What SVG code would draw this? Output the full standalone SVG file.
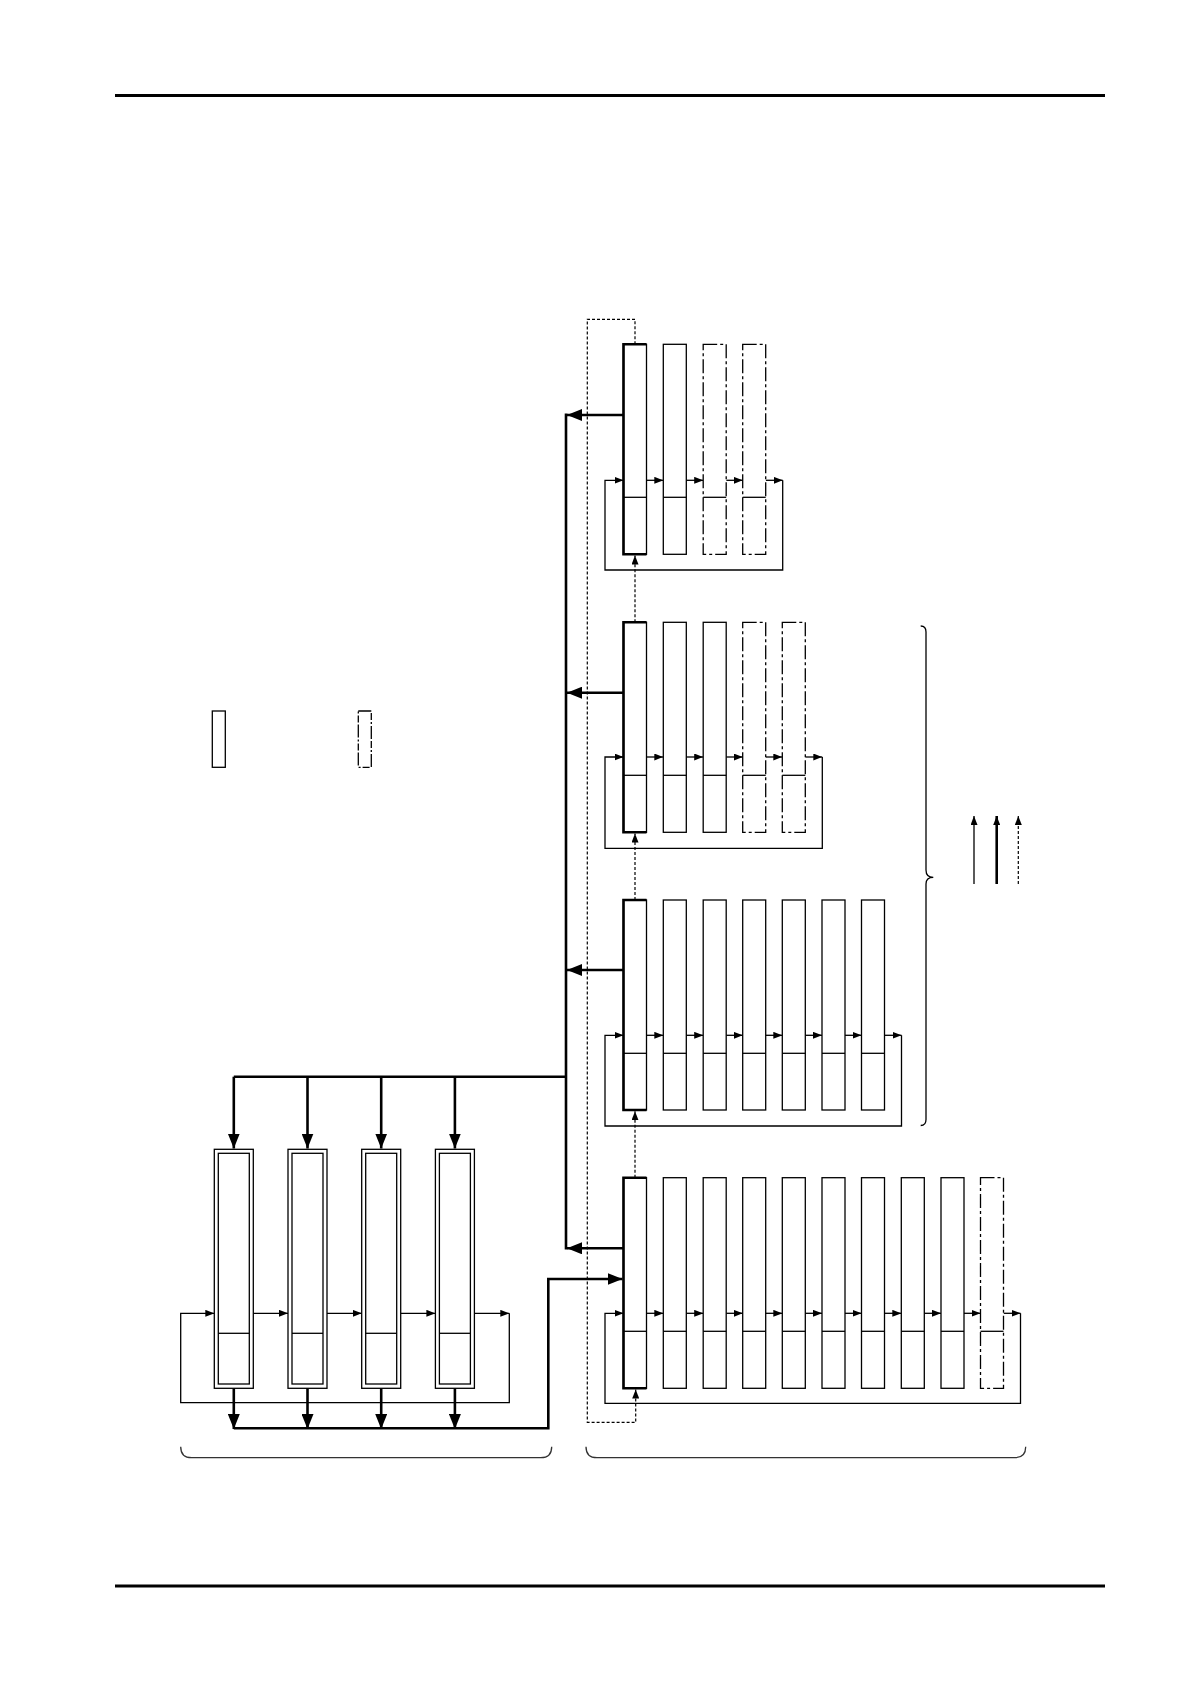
<svg xmlns="http://www.w3.org/2000/svg" width="1191" height="1684" viewBox="0 0 1191 1684">
<defs>
<style>
.thin{fill:none;stroke:#000;stroke-width:1.3}
.thick{fill:none;stroke:#000;stroke-width:2.6}
.col{fill:#fff;stroke:#000;stroke-width:1.3}
.edge{fill:none;stroke:#000;stroke-width:2.6}
.dash{fill:#fff;stroke:#000;stroke-width:1.3;stroke-dasharray:14 3 3 3}
.dot{fill:none;stroke:#000;stroke-width:1.2;stroke-dasharray:3 2}
.brace{fill:none;stroke:#333;stroke-width:1.3}
.div{stroke:#000;stroke-width:1.3}
</style>
<marker id="sa" markerUnits="userSpaceOnUse" markerWidth="9" markerHeight="7" refX="9" refY="3.5" orient="auto"><path d="M0,0 L9,3.5 L0,7 z" fill="#000"/></marker>
<marker id="la" markerUnits="userSpaceOnUse" markerWidth="15" markerHeight="12" refX="15" refY="6" orient="auto"><path d="M0,0 L15,6 L0,12 z" fill="#000"/></marker>
</defs>

<g id="rules">
<line x1="115" y1="95.6" x2="1105" y2="95.6" stroke="#000" stroke-width="3"/>
<line x1="115" y1="1586" x2="1105" y2="1586" stroke="#000" stroke-width="3"/>
</g>

<g id="legend">
<rect x="212.3" y="711" width="13" height="56.3" class="col"/>
<rect x="358.3" y="711" width="13" height="56.3" class="dash" style="stroke-dasharray:13 2 7 2 2 2"/>
<line x1="974" y1="884" x2="974" y2="816" class="thin" marker-end="url(#sa)"/>
<line x1="996.7" y1="884" x2="996.7" y2="816" class="thick" marker-end="url(#sa)"/>
<line x1="1018.3" y1="884" x2="1018.3" y2="816" class="dot" marker-end="url(#sa)"/>
</g>

<g id="braces">
<path class="brace" style="stroke:#000" d="M920.7,626 Q926,626 926,632 V870 Q926,877.4 933.3,877.4 Q926,877.4 926,884 V1119.5 Q926,1125.5 920.7,1125.5"/>
<path class="brace" d="M180.7,1446.7 Q180.7,1457.7 191.7,1457.7 H540.7 Q551.7,1457.7 551.7,1446.7"/>
<path class="brace" d="M586,1446.7 Q586,1457.7 597,1457.7 H1014.7 Q1025.7,1457.7 1025.7,1446.7"/>
</g>

<g id="connectors">
<path class="dot" d="M635,344.3 V319.3 H587.3 V1422.3 H635.7 V1389.5" marker-end="url(#sa)"/>
<path class="dot" d="M635,622.3 V555.5" marker-end="url(#sa)"/>
<path class="dot" d="M635,900 V833.5" marker-end="url(#sa)"/>
<path class="dot" d="M635,1177.7 V1111.2" marker-end="url(#sa)"/>
<path class="thick" d="M566,413.5 V1249.5"/>
<path class="thick" d="M623.5,415 H567" marker-end="url(#la)"/>
<path class="thick" d="M623.5,692.7 H567" marker-end="url(#la)"/>
<path class="thick" d="M623.5,970 H567" marker-end="url(#la)"/>
<path class="thick" d="M623.5,1248.3 H567" marker-end="url(#la)"/>
<path class="thick" d="M566,1076.7 H233.8"/>
<path class="thick" d="M233.8,1076.7 V1148.5" marker-end="url(#la)"/>
<path class="thick" d="M307.5,1076.7 V1148.5" marker-end="url(#la)"/>
<path class="thick" d="M381.2,1076.7 V1148.5" marker-end="url(#la)"/>
<path class="thick" d="M454.9,1076.7 V1148.5" marker-end="url(#la)"/>
<path class="thick" d="M233.8,1388.3 V1429" marker-end="url(#la)"/>
<path class="thick" d="M307.5,1388.3 V1429" marker-end="url(#la)"/>
<path class="thick" d="M381.2,1388.3 V1429" marker-end="url(#la)"/>
<path class="thick" d="M454.9,1388.3 V1429" marker-end="url(#la)"/>
<path class="thick" d="M233.8,1428.3 H548.3 V1279 H622.5" marker-end="url(#la)"/>
<path class="thin" d="M509.3,1313.3 V1402.7 H180.7 V1313.3 H214.3" marker-end="url(#sa)"/>
<path class="thin" d="M253.3,1313.3 H288" marker-end="url(#sa)"/>
<path class="thin" d="M327,1313.3 H361.7" marker-end="url(#sa)"/>
<path class="thin" d="M400.7,1313.3 H435.4" marker-end="url(#sa)"/>
<path class="thin" d="M474.4,1313.3 H509.3" marker-end="url(#sa)"/>
<path class="thin" d="M782.7,480.3 V570 H605 V480.3 H623.5" marker-end="url(#sa)"/>
<path class="thin" d="M646.5,480.3 H663.3" marker-end="url(#sa)"/>
<path class="thin" d="M686.3,480.3 H703.2" marker-end="url(#sa)"/>
<path class="thin" d="M726.2,480.3 H742.7" marker-end="url(#sa)"/>
<path class="thin" d="M765.7,480.3 H782.7" marker-end="url(#sa)"/>
<path class="thin" d="M822.3,757 V848.3 H605 V757 H623.5" marker-end="url(#sa)"/>
<path class="thin" d="M646.5,757 H663.3" marker-end="url(#sa)"/>
<path class="thin" d="M686.3,757 H703.2" marker-end="url(#sa)"/>
<path class="thin" d="M726.2,757 H742.7" marker-end="url(#sa)"/>
<path class="thin" d="M765.7,757 H782.3" marker-end="url(#sa)"/>
<path class="thin" d="M805.3,757 H822.3" marker-end="url(#sa)"/>
<path class="thin" d="M901.5,1035.3 V1126 H605 V1035.3 H623.5" marker-end="url(#sa)"/>
<path class="thin" d="M646.5,1035.3 H663.3" marker-end="url(#sa)"/>
<path class="thin" d="M686.3,1035.3 H703.2" marker-end="url(#sa)"/>
<path class="thin" d="M726.2,1035.3 H742.7" marker-end="url(#sa)"/>
<path class="thin" d="M765.7,1035.3 H782.3" marker-end="url(#sa)"/>
<path class="thin" d="M805.3,1035.3 H822" marker-end="url(#sa)"/>
<path class="thin" d="M845,1035.3 H861.5" marker-end="url(#sa)"/>
<path class="thin" d="M884.5,1035.3 H901.5" marker-end="url(#sa)"/>
<path class="thin" d="M1020.5,1313.3 V1403.3 H605 V1313.3 H623.5" marker-end="url(#sa)"/>
<path class="thin" d="M646.5,1313.3 H663.3" marker-end="url(#sa)"/>
<path class="thin" d="M686.3,1313.3 H703.2" marker-end="url(#sa)"/>
<path class="thin" d="M726.2,1313.3 H742.7" marker-end="url(#sa)"/>
<path class="thin" d="M765.7,1313.3 H782.3" marker-end="url(#sa)"/>
<path class="thin" d="M805.3,1313.3 H822" marker-end="url(#sa)"/>
<path class="thin" d="M845,1313.3 H861.5" marker-end="url(#sa)"/>
<path class="thin" d="M884.5,1313.3 H901.3" marker-end="url(#sa)"/>
<path class="thin" d="M924.3,1313.3 H941" marker-end="url(#sa)"/>
<path class="thin" d="M964,1313.3 H980.5" marker-end="url(#sa)"/>
<path class="thin" d="M1003.5,1313.3 H1020.5" marker-end="url(#sa)"/>
</g>

<g id="groupA">
<g id="A1"><rect x="623.5" y="344.3" width="23" height="210" class="col"/><path class="edge" d="M646.5,344.3 H623.5 V554.3 H646.5"/><line x1="623.5" y1="497.3" x2="646.5" y2="497.3" class="div"/></g>
<g id="A2"><rect x="663.3" y="344.3" width="23" height="210" class="col"/><line x1="663.3" y1="497.3" x2="686.3" y2="497.3" class="div"/></g>
<g id="A3"><rect x="703.2" y="344.3" width="23" height="210" class="dash"/><line x1="703.2" y1="497.3" x2="726.2" y2="497.3" class="div"/></g>
<g id="A4"><rect x="742.7" y="344.3" width="23" height="210" class="dash"/><line x1="742.7" y1="497.3" x2="765.7" y2="497.3" class="div"/></g>
</g>

<g id="groupB">
<g id="B1"><rect x="623.5" y="622.3" width="23" height="210" class="col"/><path class="edge" d="M646.5,622.3 H623.5 V832.3 H646.5"/><line x1="623.5" y1="775.3" x2="646.5" y2="775.3" class="div"/></g>
<g id="B2"><rect x="663.3" y="622.3" width="23" height="210" class="col"/><line x1="663.3" y1="775.3" x2="686.3" y2="775.3" class="div"/></g>
<g id="B3"><rect x="703.2" y="622.3" width="23" height="210" class="col"/><line x1="703.2" y1="775.3" x2="726.2" y2="775.3" class="div"/></g>
<g id="B4"><rect x="742.7" y="622.3" width="23" height="210" class="dash"/><line x1="742.7" y1="775.3" x2="765.7" y2="775.3" class="div"/></g>
<g id="B5"><rect x="782.3" y="622.3" width="23" height="210" class="dash"/><line x1="782.3" y1="775.3" x2="805.3" y2="775.3" class="div"/></g>
</g>

<g id="groupC">
<g id="C1"><rect x="623.5" y="900" width="23" height="210" class="col"/><path class="edge" d="M646.5,900 H623.5 V1110 H646.5"/><line x1="623.5" y1="1053.3" x2="646.5" y2="1053.3" class="div"/></g>
<g id="C2"><rect x="663.3" y="900" width="23" height="210" class="col"/><line x1="663.3" y1="1053.3" x2="686.3" y2="1053.3" class="div"/></g>
<g id="C3"><rect x="703.2" y="900" width="23" height="210" class="col"/><line x1="703.2" y1="1053.3" x2="726.2" y2="1053.3" class="div"/></g>
<g id="C4"><rect x="742.7" y="900" width="23" height="210" class="col"/><line x1="742.7" y1="1053.3" x2="765.7" y2="1053.3" class="div"/></g>
<g id="C5"><rect x="782.3" y="900" width="23" height="210" class="col"/><line x1="782.3" y1="1053.3" x2="805.3" y2="1053.3" class="div"/></g>
<g id="C6"><rect x="822" y="900" width="23" height="210" class="col"/><line x1="822" y1="1053.3" x2="845" y2="1053.3" class="div"/></g>
<g id="C7"><rect x="861.5" y="900" width="23" height="210" class="col"/><line x1="861.5" y1="1053.3" x2="884.5" y2="1053.3" class="div"/></g>
</g>

<g id="groupD">
<g id="D1"><rect x="623.5" y="1177.7" width="23" height="210.6" class="col"/><path class="edge" d="M646.5,1177.7 H623.5 V1388.3 H646.5"/><line x1="623.5" y1="1331.3" x2="646.5" y2="1331.3" class="div"/></g>
<g id="D2"><rect x="663.3" y="1177.7" width="23" height="210.6" class="col"/><line x1="663.3" y1="1331.3" x2="686.3" y2="1331.3" class="div"/></g>
<g id="D3"><rect x="703.2" y="1177.7" width="23" height="210.6" class="col"/><line x1="703.2" y1="1331.3" x2="726.2" y2="1331.3" class="div"/></g>
<g id="D4"><rect x="742.7" y="1177.7" width="23" height="210.6" class="col"/><line x1="742.7" y1="1331.3" x2="765.7" y2="1331.3" class="div"/></g>
<g id="D5"><rect x="782.3" y="1177.7" width="23" height="210.6" class="col"/><line x1="782.3" y1="1331.3" x2="805.3" y2="1331.3" class="div"/></g>
<g id="D6"><rect x="822" y="1177.7" width="23" height="210.6" class="col"/><line x1="822" y1="1331.3" x2="845" y2="1331.3" class="div"/></g>
<g id="D7"><rect x="861.5" y="1177.7" width="23" height="210.6" class="col"/><line x1="861.5" y1="1331.3" x2="884.5" y2="1331.3" class="div"/></g>
<g id="D8"><rect x="901.3" y="1177.7" width="23" height="210.6" class="col"/><line x1="901.3" y1="1331.3" x2="924.3" y2="1331.3" class="div"/></g>
<g id="D9"><rect x="941" y="1177.7" width="23" height="210.6" class="col"/><line x1="941" y1="1331.3" x2="964" y2="1331.3" class="div"/></g>
<g id="D10"><rect x="980.5" y="1177.7" width="23" height="210.6" class="dash"/><line x1="980.5" y1="1331.3" x2="1003.5" y2="1331.3" class="div"/></g>
</g>

<g id="groupL">
<g id="L1"><rect x="214.3" y="1149.3" width="39" height="239" class="col"/><rect x="218.3" y="1153.3" width="31" height="230.7" class="col"/><line x1="218.3" y1="1333.3" x2="249.3" y2="1333.3" class="div"/></g>
<g id="L2"><rect x="288" y="1149.3" width="39" height="239" class="col"/><rect x="292" y="1153.3" width="31" height="230.7" class="col"/><line x1="292" y1="1333.3" x2="323" y2="1333.3" class="div"/></g>
<g id="L3"><rect x="361.7" y="1149.3" width="39" height="239" class="col"/><rect x="365.7" y="1153.3" width="31" height="230.7" class="col"/><line x1="365.7" y1="1333.3" x2="396.7" y2="1333.3" class="div"/></g>
<g id="L4"><rect x="435.4" y="1149.3" width="39" height="239" class="col"/><rect x="439.4" y="1153.3" width="31" height="230.7" class="col"/><line x1="439.4" y1="1333.3" x2="470.4" y2="1333.3" class="div"/></g>
</g>
</svg>
